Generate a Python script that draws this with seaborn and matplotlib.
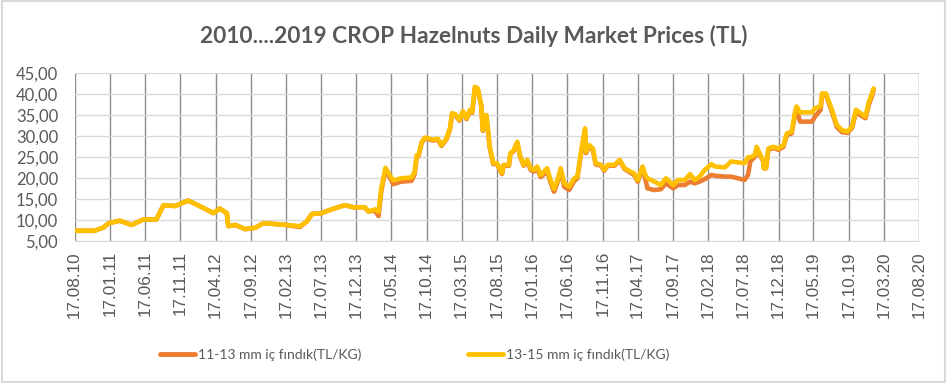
"""
Hazelnut daily market prices 2010-2019 crop (Excel style line chart)
"""
import pandas as pd
import numpy as np
import matplotlib
matplotlib.use("Agg")
import matplotlib.pyplot as plt
from matplotlib.lines import Line2D
from matplotlib.patches import Rectangle
import seaborn as sns

# values
dates = [
    "2010-08-17", "2010-11-10", "2010-12-20", "2011-01-10", "2011-02-28", "2011-04-20",
    "2011-06-10", "2011-08-05", "2011-09-05", "2011-10-25", "2011-12-20", "2012-02-15",
    "2012-04-08", "2012-05-05", "2012-06-05", "2012-06-11", "2012-07-11", "2012-08-23",
    "2012-10-05", "2012-11-10", "2013-01-01", "2013-02-14", "2013-04-17", "2013-05-16",
    "2013-06-08", "2013-07-20", "2013-08-17", "2013-09-17", "2013-10-29", "2013-12-05",
    "2014-01-23", "2014-02-07", "2014-03-08", "2014-03-23", "2014-04-04", "2014-04-22",
    "2014-05-10", "2014-05-26", "2014-06-29", "2014-08-13", "2014-08-26", "2014-09-04",
    "2014-09-12", "2014-09-26", "2014-10-10", "2014-11-14", "2014-12-05", "2014-12-20",
    "2015-01-11", "2015-01-26", "2015-02-04", "2015-02-17", "2015-03-08", "2015-03-23",
    "2015-04-08", "2015-04-22", "2015-05-02", "2015-05-14", "2015-05-26", "2015-06-10",
    "2015-06-17", "2015-07-02", "2015-07-17", "2015-08-01", "2015-08-17", "2015-09-08",
    "2015-09-15", "2015-10-08", "2015-10-14", "2015-10-29", "2015-11-13", "2015-11-26",
    "2015-12-11", "2015-12-26", "2016-01-10", "2016-01-24", "2016-02-07", "2016-02-22",
    "2016-03-08", "2016-03-21", "2016-04-05", "2016-04-20", "2016-05-05", "2016-05-19",
    "2016-06-03", "2016-06-24", "2016-07-17", "2016-07-30", "2016-08-14", "2016-09-01",
    "2016-09-05", "2016-09-20", "2016-10-05", "2016-10-17", "2016-11-10", "2016-11-23",
    "2016-12-08", "2017-01-07", "2017-01-29", "2017-02-19", "2017-03-17", "2017-04-01",
    "2017-04-17", "2017-05-08", "2017-05-20", "2017-05-29", "2017-06-28", "2017-07-26",
    "2017-08-17", "2017-09-17", "2017-10-08", "2017-11-07", "2017-11-29", "2017-12-20",
    "2018-01-10", "2018-02-01", "2018-03-02", "2018-03-17", "2018-04-29", "2018-05-26",
    "2018-07-23", "2018-08-07", "2018-08-17", "2018-09-07", "2018-09-13", "2018-09-29",
    "2018-10-11", "2018-10-14", "2018-10-24", "2018-11-03", "2018-11-25", "2018-12-17",
    "2019-01-07", "2019-01-22", "2019-02-12", "2019-02-28", "2019-03-05", "2019-03-20",
    "2019-05-11", "2019-05-24", "2019-06-17", "2019-06-23", "2019-07-10", "2019-08-05",
    "2019-08-26", "2019-09-17", "2019-10-10", "2019-10-31", "2019-11-17", "2019-12-07",
    "2019-12-28", "2020-01-10", "2020-01-24", "2020-02-01",
]

price_13_15 = [
    7.5, 7.5, 8.3, 9.3, 9.9, 8.9,
    10.2, 10.2, 13.6, 13.4, 14.7, 13.2,
    11.7, 12.8, 11.7, 8.6, 8.9, 7.9,
    8.2, 9.3, 9.1, 8.9, 8.6, 9.7,
    11.5, 11.7, 12.3, 12.9, 13.6, 13.1,
    13.1, 12.1, 12.6, 12.0, 17.6, 22.5,
    20.8, 19.5, 20.0, 20.2, 21.5, 25.5,
    25.5, 28.7, 29.7, 29.2, 29.4, 27.9,
    29.5, 31.9, 35.5, 35.3, 33.9, 36.0,
    34.3, 36.3, 35.8, 41.8, 41.4, 37.5,
    31.5, 35.1, 27.5, 23.6, 23.6, 21.2,
    23.2, 23.2, 26.0, 26.7, 28.7, 25.2,
    23.2, 24.4, 22.4, 22.0, 22.8, 20.8,
    21.6, 22.4, 19.6, 17.5, 19.6, 22.4,
    18.8, 18.0, 20.0, 20.4, 26.0, 31.9,
    26.3, 27.9, 27.1, 23.6, 23.2, 22.0,
    23.2, 23.2, 24.4, 22.4, 21.6, 21.2,
    19.6, 22.8, 20.8, 20.0, 19.2, 18.4,
    20.0, 18.4, 19.6, 19.6, 21.0, 19.6,
    20.4, 22.0, 23.4, 22.8, 22.6, 24.0,
    23.6, 25.0, 25.0, 25.6, 27.5, 25.6,
    24.4, 22.4, 22.4, 27.1, 27.5, 27.1,
    27.9, 30.7, 31.1, 36.3, 37.1, 35.7,
    35.7, 36.7, 37.1, 40.2, 40.2, 36.3,
    32.7, 31.5, 31.1, 32.3, 36.3, 35.5,
    34.7, 37.9, 40.0, 41.4,
]

price_11_13 = [
    7.5, 7.5, 8.3, 9.3, 9.9, 8.9,
    10.2, 10.2, 13.6, 13.4, 14.7, 13.2,
    11.7, 12.8, 11.7, 8.6, 8.9, 7.9,
    8.2, 9.3, 9.1, 8.9, 8.4, 9.7,
    11.5, 11.7, 12.3, 12.9, 13.6, 13.1,
    13.1, 12.1, 12.3, 11.0, 17.0, 22.0,
    20.3, 18.6, 19.2, 19.4, 21.0, 25.0,
    25.3, 28.5, 29.5, 29.0, 29.2, 27.7,
    29.3, 31.7, 35.3, 35.1, 33.7, 35.8,
    34.1, 36.1, 35.6, 41.5, 41.2, 37.3,
    31.3, 34.9, 27.3, 23.4, 23.4, 21.0,
    23.0, 23.0, 25.8, 26.5, 28.5, 25.0,
    23.0, 24.0, 22.0, 21.6, 22.3, 20.3,
    21.0, 21.8, 19.0, 16.8, 19.0, 21.8,
    18.0, 17.2, 19.4, 20.0, 25.6, 31.5,
    26.0, 27.6, 26.8, 23.3, 23.0, 21.8,
    23.0, 23.0, 24.2, 22.2, 21.3, 20.8,
    19.2, 22.3, 19.8, 17.6, 17.2, 17.4,
    18.8, 17.6, 18.4, 18.4, 19.2, 18.8,
    19.2, 19.8, 20.8, 20.6, 20.4, 20.4,
    19.6, 20.8, 24.0, 25.2, 27.0, 25.3,
    24.2, 22.4, 22.4, 26.8, 27.2, 26.8,
    27.5, 30.3, 30.7, 35.8, 36.5, 33.5,
    33.5, 34.7, 36.3, 39.8, 39.8, 35.8,
    32.2, 31.0, 30.8, 32.0, 35.8, 35.0,
    34.3, 37.3, 39.4, 41.0,
]

series_names = ["11-13 mm iç fındık(TL/KG)", "13-15 mm iç fındık(TL/KG)"]
series_colors = ["#ED7D31", "#FFC000"]

df = pd.DataFrame({"date": pd.to_datetime(dates),
                   series_names[0]: price_11_13,
                   series_names[1]: price_13_15})
long_df = df.melt(id_vars="date", var_name="series", value_name="price")

sns.set_style("white")
plt.rcParams["font.family"] = ["Lato", "DejaVu Sans"]

fig = plt.figure(figsize=(9.47, 3.83), dpi=100)
ax = fig.add_axes([0.0789, 0.370, 0.8919, 0.4386])

sns.lineplot(data=long_df, x="date", y="price", hue="series",
             hue_order=series_names, palette=series_colors,
             estimator=None, linewidth=3.3, legend=False, ax=ax)

start = pd.Timestamp("2010-08-17")
ticks = [start + pd.DateOffset(months=5 * i) for i in range(25)]
ax.set_xlim(ticks[0], ticks[-1])
ax.set_xticks(ticks)
ax.set_xticklabels([t.strftime("%d.%m.%y") for t in ticks], rotation=90,
                   fontsize=12.3, color="#595959", family="Liberation Sans")
ax.set_ylim(5, 45)
ax.set_yticks(np.arange(5, 46, 5))
ax.set_yticklabels([f"{v:.2f}".replace(".", ",") for v in np.arange(5, 46, 5)],
                   fontsize=12, color="#595959")
ax.set_xlabel("")
ax.set_ylabel("")

ax.xaxis.grid(True, color="#8c8c8c", linewidth=1.0)
ax.yaxis.grid(True, color="#d9d9d9", linewidth=1.0)
ax.set_axisbelow(True)
for side in ["top", "right", "left"]:
    ax.spines[side].set_visible(False)
ax.spines["bottom"].set_color("#d9d9d9")
ax.tick_params(axis="x", length=4, color="#bfbfbf", pad=3)
ax.tick_params(axis="y", length=0, pad=12)

fig.text(0.5, 0.905, "2010....2019 CROP Hazelnuts Daily Market Prices (TL)",
         ha="center", va="center", fontsize=16.3, fontweight="bold", color="#595959")

handles = [Line2D([0], [0], color=c, linewidth=3.5, solid_capstyle="round")
           for c in series_colors]
fig.legend(handles, series_names, loc="center", bbox_to_anchor=(0.438, 0.073),
           ncol=2, frameon=False, fontsize=10, labelcolor="#595959",
           handlelength=2.5, handletextpad=0.2, columnspacing=7.7)

fig.patches.append(Rectangle((0.002, 0.003), 0.996, 0.994, transform=fig.transFigure,
                             fill=False, edgecolor="#d9d9d9", linewidth=1.5))

fig.savefig("out.png", dpi=100)
